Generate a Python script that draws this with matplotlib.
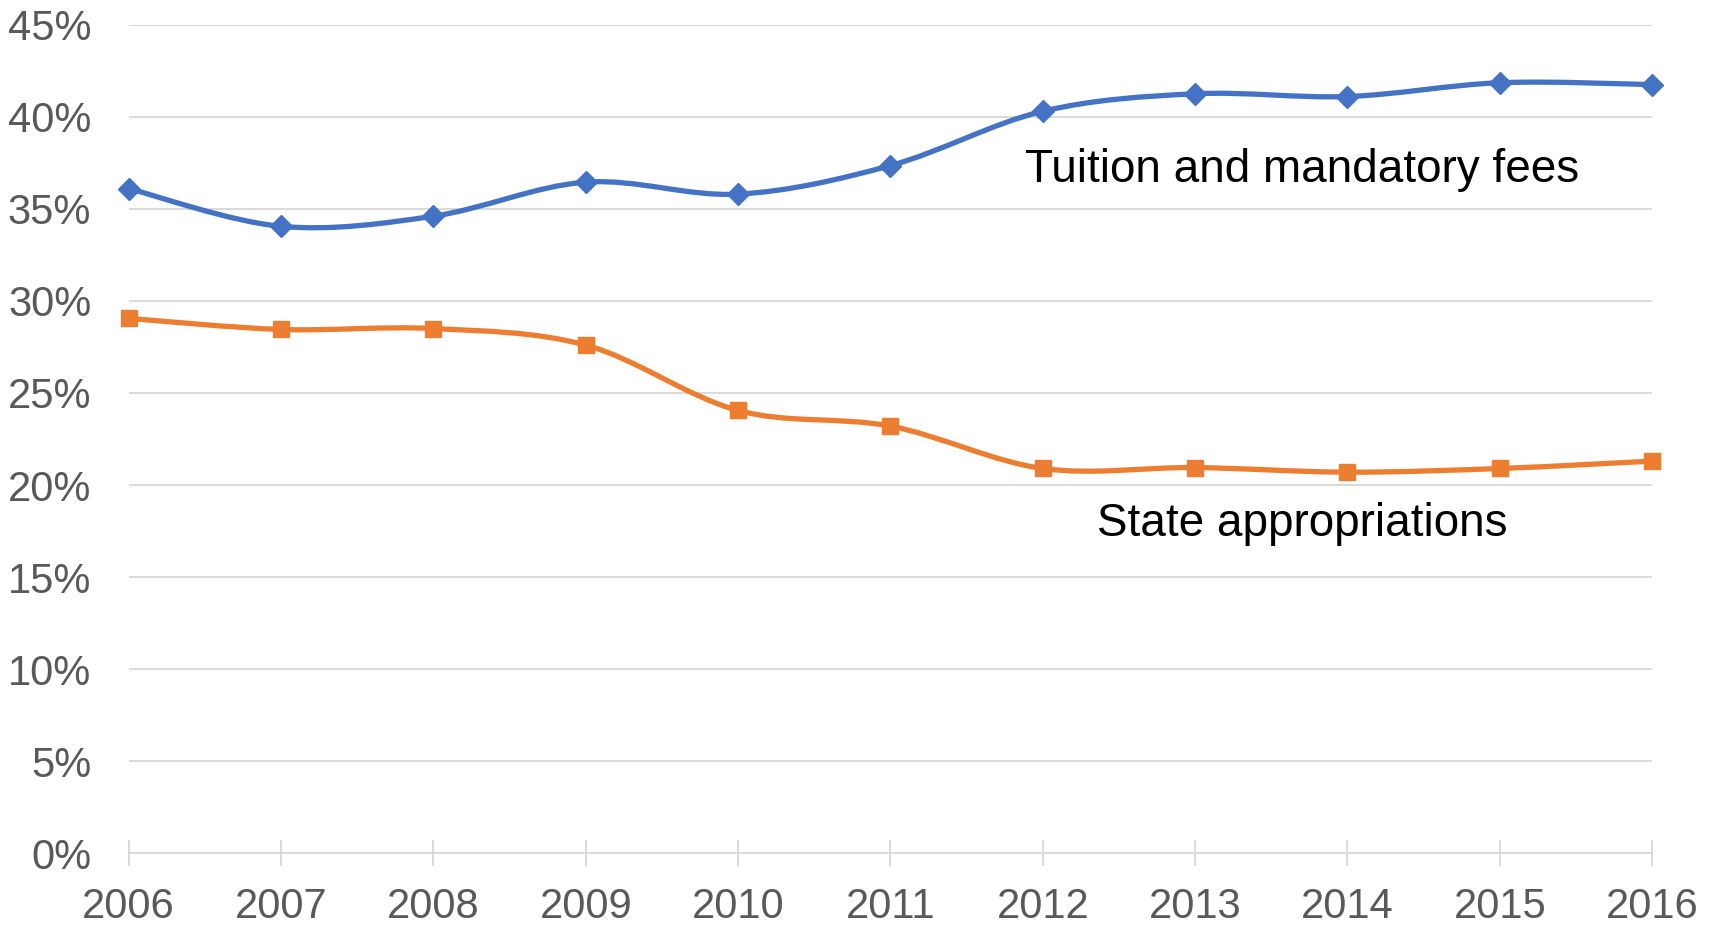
import numpy as np
import matplotlib.pyplot as plt
from matplotlib.path import Path
from matplotlib.patches import PathPatch
from matplotlib.ticker import FuncFormatter

years = [2006, 2007, 2008, 2009, 2010, 2011, 2012, 2013, 2014, 2015, 2016]
tuition = [36.1, 34.05, 34.6, 36.45, 35.8, 37.35, 40.3, 41.25, 41.1, 41.85, 41.75]
state = [29.05, 28.45, 28.5, 27.6, 24.05, 23.2, 20.9, 20.95, 20.7, 20.9, 21.3]

blue = '#4472C4'
orange = '#ED7D31'
tick_color = '#595959'
grid_color = '#D9D9D9'


def smooth_path(x, y):
    # bezier path through the points, like excel's "smoothed line"
    x = np.asarray(x, float)
    y = np.asarray(y, float)
    verts = [(x[0], y[0])]
    codes = [Path.MOVETO]
    n = len(x)
    for i in range(n - 1):
        p0 = np.array([x[max(i - 1, 0)], y[max(i - 1, 0)]])
        p1 = np.array([x[i], y[i]])
        p2 = np.array([x[i + 1], y[i + 1]])
        p3 = np.array([x[min(i + 2, n - 1)], y[min(i + 2, n - 1)]])
        c1 = p1 + (p2 - p0) / 6.0
        c2 = p2 - (p3 - p1) / 6.0
        verts += [tuple(c1), tuple(c2), tuple(p2)]
        codes += [Path.CURVE4, Path.CURVE4, Path.CURVE4]
    return Path(verts, codes)


fig = plt.figure(figsize=(17.21, 9.26), dpi=100)
ax = fig.add_axes([0.0748, 0.0785, 0.8852, 0.8948])

for vals, col, mk, ms in [(tuition, blue, 'D', 11), (state, orange, 's', 12)]:
    ax.add_patch(PathPatch(smooth_path(years, vals), facecolor='none',
                           edgecolor=col, lw=3.8, clip_on=False, zorder=3))
    ax.plot(years, vals, linestyle='none', marker=mk, markersize=ms,
            color=col, clip_on=False, zorder=4)

ax.set_xlim(2006, 2016)
ax.set_ylim(0, 45)
ax.set_yticks(range(0, 46, 5))
ax.yaxis.set_major_formatter(FuncFormatter(lambda v, p: '%d%%' % v))
ax.set_xticks(years)

ax.grid(axis='y', color=grid_color, lw=1.4)
ax.set_axisbelow(True)
for s in ['top', 'right', 'left']:
    ax.spines[s].set_visible(False)
ax.spines['bottom'].set_color(grid_color)
ax.spines['bottom'].set_linewidth(1.4)

ax.tick_params(axis='y', length=0, pad=27, labelsize=30, labelcolor=tick_color)
ax.tick_params(axis='x', direction='inout', length=19, width=1.4, color=grid_color,
               pad=15, labelsize=30, labelcolor=tick_color)
for lab in ax.get_xticklabels() + ax.get_yticklabels():
    lab.set_fontfamily(['Liberation Sans', 'DejaVu Sans'])

ax.text(2013.7, 37.1, 'Tuition and mandatory fees', ha='center', va='center',
        fontsize=33, family=['Liberation Sans', 'DejaVu Sans'])
ax.text(2013.7, 17.9, 'State appropriations', ha='center', va='center',
        fontsize=33, family=['Liberation Sans', 'DejaVu Sans'])

fig.savefig('out.png', dpi=100)
